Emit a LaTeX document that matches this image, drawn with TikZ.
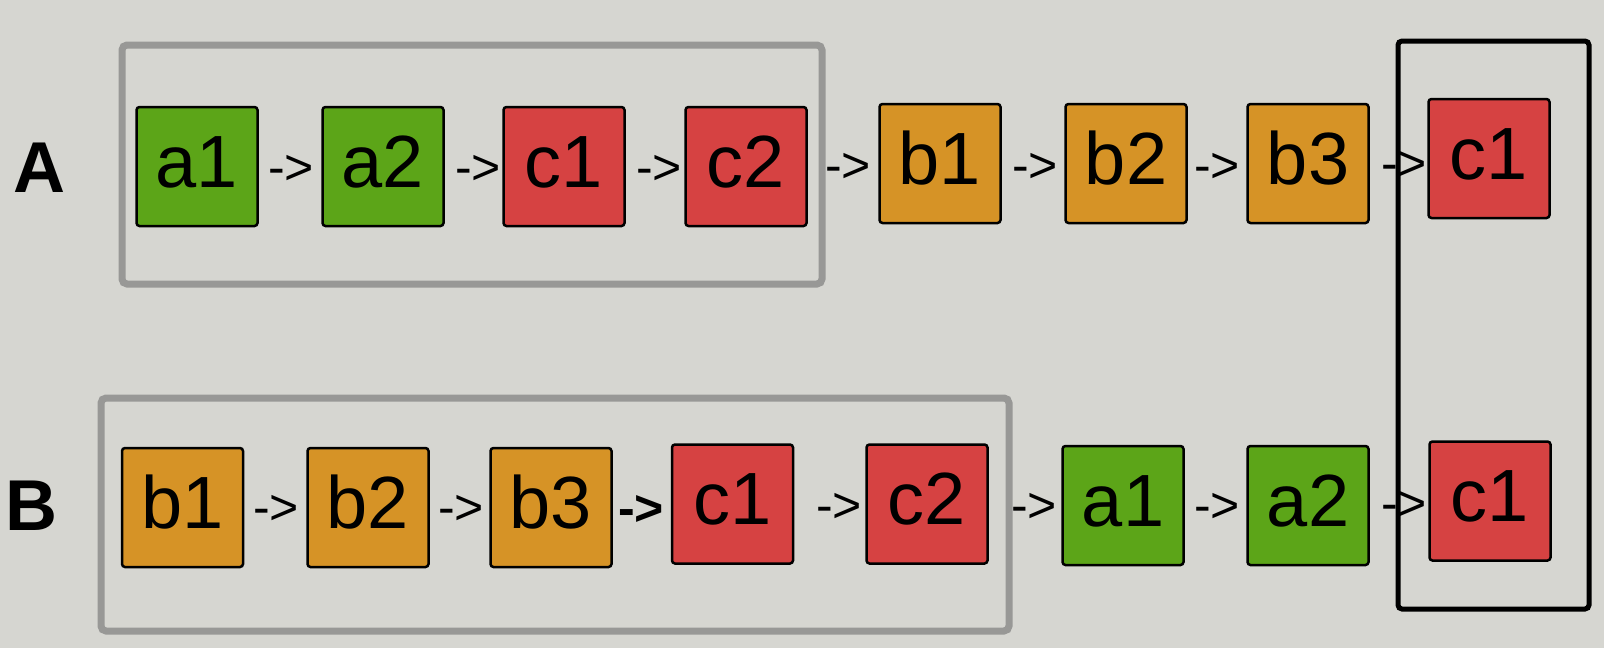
\documentclass[tikz,border=0pt]{standalone}
\usepackage{fontspec}
\setmainfont{Liberation Sans}
\definecolor{bg}{RGB}{214,214,209}
\definecolor{cgreen}{RGB}{92,165,24}
\definecolor{corange}{RGB}{214,147,38}
\definecolor{cred}{RGB}{214,66,66}
\definecolor{fgray}{RGB}{152,152,150}
\tikzset{
  cell/.style={draw=black, line width=2.5pt, rounded corners=3pt, minimum width=121pt, minimum height=119pt, inner sep=0pt, text height=53pt, text depth=12pt, font=\fontsize{74}{74}\selectfont},
  gcell/.style={cell, fill=cgreen},
  ocell/.style={cell, fill=corange},
  rcell/.style={cell, fill=cred},
  link/.style={inner sep=0pt, font=\fontsize{50}{50}\selectfont},
  rowlabel/.style={inner sep=0pt, font=\fontsize{72}{72}\selectfont\bfseries},
  grayframe/.style={draw=fgray, line width=7pt, rounded corners=5pt},
  blackframe/.style={draw=black, line width=5pt, rounded corners=4pt}
}
\begin{document}
\begin{tikzpicture}[x=1pt,y=-1pt]
\fill[bg] (0,0) rectangle (1604,648);
\useasboundingbox (0,0) rectangle (1604,648);
% frames
\draw[grayframe] (122,45) rectangle (822,284);
\draw[grayframe] (101,398) rectangle (1009,631);
\draw[blackframe] (1398,41) rectangle (1589,609);
% row labels
\node[rowlabel] (labA) at (39,168) {A};
\node[rowlabel] (labB) at (31,506) {B};
% row A
\node[gcell] (A1) at (197,166.5) {a1};
\node[gcell] (A2) at (383,166.5) {a2};
\node[rcell] (A3) at (564,166.5) {c1};
\node[rcell] (A4) at (746,166.5) {c2};
\node[ocell] (A5) at (940,163.5) {b1};
\node[ocell] (A6) at (1126,163.5) {b2};
\node[ocell] (A7) at (1308,163.5) {b3};
\node[rcell] (A8) at (1489,158.5) {c1};
\node[link] (LA1) at (291,170) {->};
\node[link] (LA2) at (478,170) {->};
\node[link] (LA3) at (659,170) {->};
\node[link] (LA4) at (848,168) {->};
\node[link] (LA5) at (1035,168) {->};
\node[link] (LA6) at (1217,168) {->};
\node[link] (LA7) at (1404,166) {->};
% row B
\node[ocell] (B1) at (182.5,507.5) {b1};
\node[ocell] (B2) at (368,507.5) {b2};
\node[ocell] (B3) at (551,507.5) {b3};
\node[rcell] (B4) at (732.5,504) {c1};
\node[rcell] (B5) at (927,504) {c2};
\node[gcell] (B6) at (1123,505.5) {a1};
\node[gcell] (B7) at (1308,505.5) {a2};
\node[rcell] (B8) at (1490,501) {c1};
\node[link] (LB1) at (276,510) {->};
\node[link] (LB2) at (461,510) {->};
\node[link] (LB3) at (641,510) {\textbf{->}};
\node[link] (LB4) at (839,508) {->};
\node[link] (LB5) at (1034,508) {->};
\node[link] (LB6) at (1217,508) {->};
\node[link] (LB7) at (1404,506) {->};
\end{tikzpicture}
\end{document}
